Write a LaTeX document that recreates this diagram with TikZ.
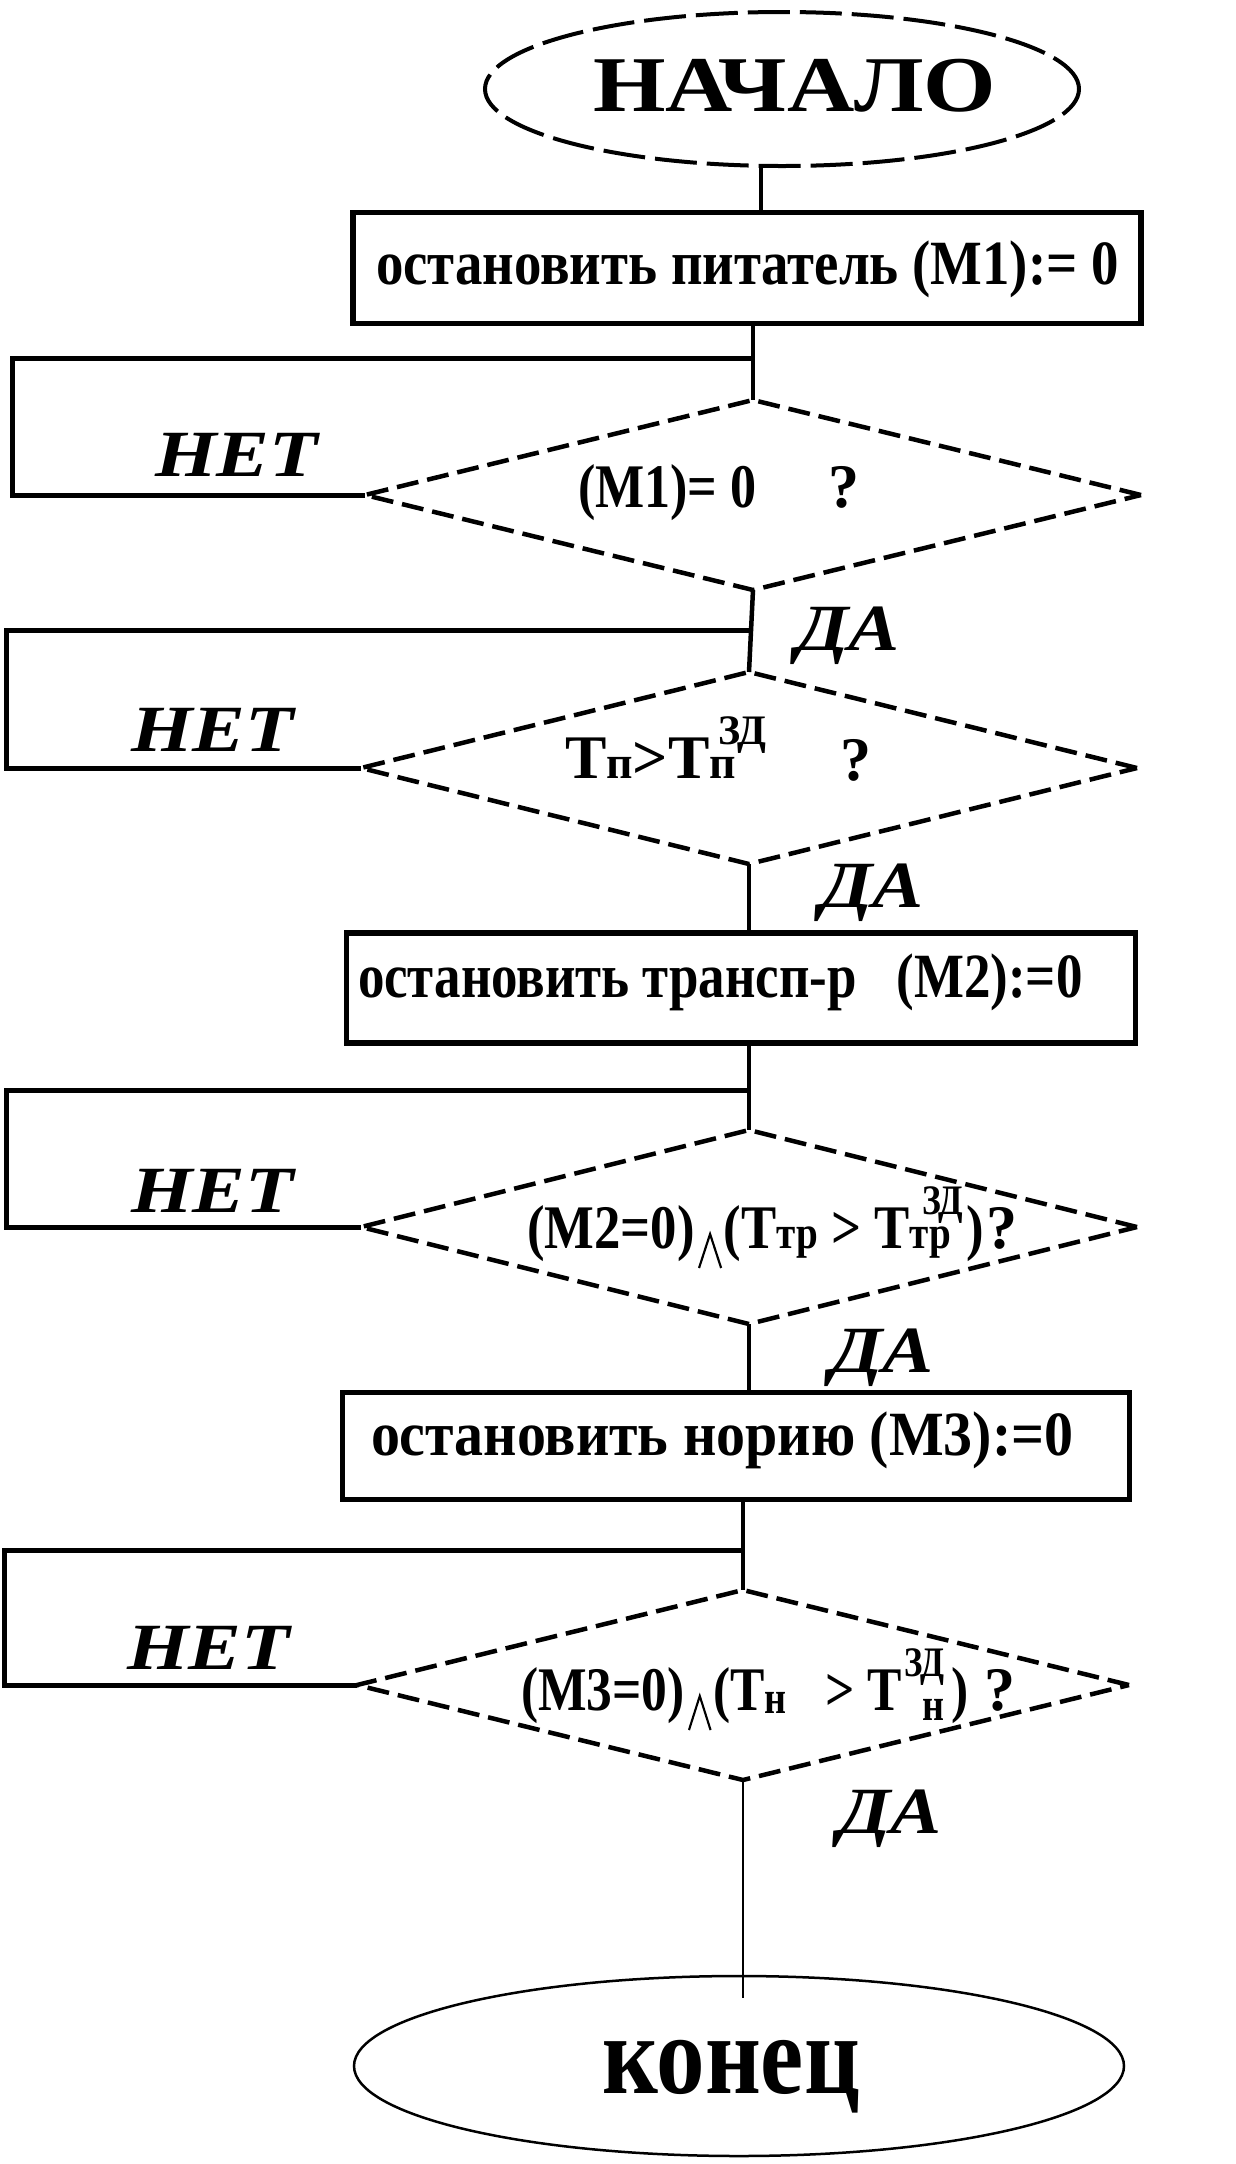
\documentclass[tikz,border=0pt]{standalone}
\usepackage{fontspec}
\setmainfont{Liberation Serif}
\usetikzlibrary{shapes.geometric}
\newcommand\subt[1]{{\fontsize{46}{46}\selectfont #1}}
\newcommand\supt[1]{\raisebox{34pt}{\fontsize{42}{42}\selectfont #1}}
\newcommand\fnt[1]{\fontsize{#1}{#1}\selectfont}
\newcommand\andsym{\hspace{4pt}\tikz[baseline=0pt,x=1pt,y=1pt]\draw[line width=2.5pt,line join=miter] (0,-20) -- (13,14) -- (26,-20);\hspace{2pt}}
\begin{document}
\begin{tikzpicture}[x=1pt,y=-1pt,
  every node/.style={inner sep=0pt, outer sep=0pt},
  boxst/.style={draw, rectangle, line width=5.5pt},
  decst/.style={draw, diamond, line width=4.5pt, dash pattern=on 22pt off 9pt},
  conn/.style={line width=4.5pt},
  loopst/.style={line width=5pt},
  txt/.style={anchor=base west, inner sep=0pt},
  lab/.style={anchor=base west, inner sep=0pt, font=\bfseries\itshape},
]
\fill[white] (0,0) rectangle (1236,2164);
\useasboundingbox (0,0) rectangle (1236,2164);

% shapes
\node[draw, ellipse, line width=4pt, dash pattern=on 42pt off 10pt,
      minimum width=594pt, minimum height=154pt] (start) at (782,89) {};
\node[boxst, minimum width=788pt, minimum height=111pt] (box1) at (747,268) {};
\node[decst, minimum width=776pt, minimum height=190pt] (d1) at (753,495) {};
\node[decst, minimum width=776pt, minimum height=192pt] (d2) at (749,768) {};
\node[boxst, minimum width=789pt, minimum height=110pt] (box2) at (741,988) {};
\node[decst, minimum width=776pt, minimum height=194pt] (d3) at (749,1227) {};
\node[boxst, minimum width=787pt, minimum height=107pt] (box3) at (736,1446) {};
\node[decst, minimum width=772pt, minimum height=190pt] (d4) at (743,1685) {};
\node[draw, ellipse, line width=2.5pt, minimum width=770pt, minimum height=180pt] (end) at (739,2066) {};

% texts
\node[txt] (tstart) at (593,111) {\scalebox{1.18}[1]{\fnt{79}\bfseries НАЧАЛО}};
\node[txt] (tbox1) at (376,284) {\scalebox{0.87}[1]{\fnt{63}\bfseries остановить питатель (M1):= 0}};
\node[txt] (tbox2) at (358,997) {\scalebox{0.84}[1]{\fnt{63}\bfseries остановить трансп-р\ \ \ (M2):=0}};
\node[txt] (tbox3) at (371,1455) {\scalebox{0.92}[1]{\fnt{63}\bfseries остановить норию (M3):=0}};
\node[txt] (tend) at (602,2093) {\scalebox{0.97}[1.13]{\fnt{100}\bfseries конец}};

\node[txt] (q1) at (578,507) {\scalebox{0.84}[1]{\fnt{62}\bfseries (M1)= 0}};
\node[txt] (q1m) at (828,507) {\fnt{62}\bfseries ?};
\node[txt] (q2) at (565,778) {\fnt{62}\bfseries T\subt{п}>T\subt{п}\hspace{-18pt}\supt{ЗД}};
\node[txt] (q2m) at (840,780) {\fnt{62}\bfseries ?};
\node[txt] (q3) at (527,1248) {\scalebox{0.85}[1]{\fnt{62}\bfseries(M2=0)\andsym(T\subt{тр} > T\subt{тр}\hspace{-34pt}\supt{ЗД}\hspace{4pt})}};
\node[txt] (q3m) at (986,1248) {\fnt{62}\bfseries ?};
\node[txt] (q4) at (521,1710) {\scalebox{0.83}[1]{\fnt{62}\bfseries(M3=0)\andsym(T\raisebox{-3pt}{\subt{н}}\ \ \ > T\hspace{3pt}\supt{ЗД}\hspace{-26pt}\raisebox{-10pt}{\subt{н}}\hspace{8pt})}};
\node[txt] (q4m) at (984,1710) {\fnt{62}\bfseries ?};

\node[lab] (no1) at (155,476) {\scalebox{1.2}[1]{\fnt{66}НЕТ}};
\node[lab] (no2) at (131,751) {\scalebox{1.2}[1]{\fnt{66}НЕТ}};
\node[lab] (no3) at (131,1212) {\scalebox{1.2}[1]{\fnt{66}НЕТ}};
\node[lab] (no4) at (127,1669) {\scalebox{1.2}[1]{\fnt{66}НЕТ}};
\node[lab] (yes1) at (796,650) {\scalebox{1.16}[1]{\fnt{66}ДА}};
\node[lab] (yes2) at (820,907) {\scalebox{1.16}[1]{\fnt{66}ДА}};
\node[lab] (yes3) at (830,1372) {\scalebox{1.16}[1]{\fnt{66}ДА}};
\node[lab] (yes4) at (838,1833) {\scalebox{1.16}[1]{\fnt{66}ДА}};

% connectors
\draw[conn] (start.south -| 761,0) -- (box1.north -| 761,0);
\draw[conn] (box1.south -| d1.north) -- (d1.north);
\draw[conn] (d1.south) -- (d2.north);
\draw[conn] (d2.south) -- (box2.north -| d2.south);
\draw[conn] (box2.south -| d3.north) -- (d3.north);
\draw[conn] (d3.south) -- (box3.north -| d3.south);
\draw[conn] (box3.south -| d4.north) -- (d4.north);
\draw[line width=2.5pt] (d4.south) -- ([yshift=-22pt]end.north -| d4.south);

% NET loops
\coordinate (n1) at (12,358);
\coordinate (n2) at (6,630);
\coordinate (n3) at (6,1090);
\coordinate (n4) at (4,1550);
\draw[loopst] (d1.west) -| (n1) -- (n1 -| d1.north);
\draw[loopst] (d2.west) -| (n2) -- (n2 -| d2.north);
\draw[loopst] (d3.west) -| (n3) -- (n3 -| d3.north);
\draw[loopst] (d4.west) -| (n4) -- (n4 -| d4.north);
\end{tikzpicture}
\end{document}
